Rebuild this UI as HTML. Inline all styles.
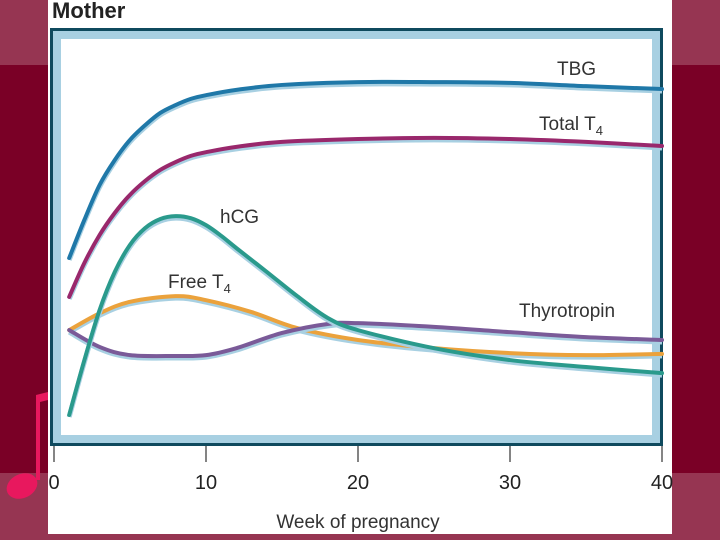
<!DOCTYPE html>
<html><head><meta charset="utf-8"><style>
html,body{margin:0;padding:0;width:720px;height:540px;overflow:hidden;background:#7a0026;font-family:"Liberation Sans",sans-serif}
svg{display:block}
</style></head><body>
<svg width="720" height="540">
<rect x="0" y="0" width="720" height="65" fill="#963552"/>
<rect x="0" y="473" width="720" height="67" fill="#963552"/>
<rect x="48" y="0" width="624" height="534" fill="#fff"/>
<g fill="#e8185e">
<rect x="36" y="395" width="4" height="85"/>
<path d="M36 395 L48 392 L48 400 L40 402 Z"/>
<ellipse cx="22" cy="486" rx="16" ry="12" transform="rotate(-25 22 486)"/>
</g>
<text x="52" y="18" font-size="22" font-weight="bold" fill="#222">Mother</text>
<rect x="51.5" y="29.5" width="610" height="415" fill="none" stroke="#0f4a5e" stroke-width="3"/>
<rect x="57" y="35" width="599" height="404" fill="none" stroke="#a8d0e2" stroke-width="8"/>
<g id="ticks"></g>
<g id="lines"></g>
<text x="557" y="75" font-size="19" fill="#333">TBG</text>
<text x="539" y="130" font-size="19" fill="#333">Total T<tspan font-size="13" dy="5">4</tspan></text>
<text x="220" y="223" font-size="19" fill="#333">hCG</text>
<text x="168" y="288" font-size="19" fill="#333">Free T<tspan font-size="13" dy="5">4</tspan></text>
<text x="519" y="317" font-size="19" fill="#333">Thyrotropin</text>
<text x="358" y="528" font-size="19" fill="#333" text-anchor="middle">Week of pregnancy</text>
</svg>
<script>
const xTicks=[0,10,20,30,40];
const tbgWeeks=[1,2,3,4,5,6,7,8,9,10,12,15,20,25,30,35,40];
const tbgValues=[44.4,53.7,62.2,68.3,73.2,76.8,79.8,81.7,83.2,84.1,85.4,86.6,87.3,87.3,87.1,86.3,85.6];
const t4Weeks=[1,2,3,4,5,6,7,8,9,10,12,15,20,25,30,35,40];
const t4Values=[34.9,43.2,50,55.4,59.8,63.2,65.9,67.8,69.3,70.2,71.5,72.7,73.4,73.7,73.4,72.7,71.7];
const hcgWeeks=[1,2,3,4,5,6,7,8,9,10,11,12,14,16,18,20,25,30,35,40];
const hcgValues=[6.1,19.5,31.7,41,47.6,51.7,53.9,54.6,54.1,52.4,49.8,46.8,41,35.1,29.8,26.8,22.4,19.5,17.8,16.3];
const ft4Weeks=[1,3,5,8,10,13,16,20,25,30,35,40];
const ft4Values=[26.8,30.9,33.7,35.1,34.1,31.2,27.3,24.4,22.4,21.2,20.7,21];
const tshWeeks=[1,3,5,8,10,12,15,18,20,25,30,35,40];
const tshValues=[26.8,22.7,20.7,20.5,20.7,22.4,26.1,28.3,28.5,27.6,26.3,25.1,24.4];
const NS='http://www.w3.org/2000/svg';
const xs=w=>54+w*15.2;
const ys=v=>440-v*4.1;
const tg=document.getElementById('ticks');
xTicks.forEach(t=>{
 const l=document.createElementNS(NS,'line');
 l.setAttribute('x1',xs(t));l.setAttribute('x2',xs(t));l.setAttribute('y1',446);l.setAttribute('y2',462);
 l.setAttribute('stroke','#333');l.setAttribute('stroke-width','1.2');
 
 
 tg.appendChild(l);
 const tx=document.createElementNS(NS,'text');
 tx.setAttribute('x',xs(t));tx.setAttribute('y',489);tx.setAttribute('font-size','20');
 tx.setAttribute('text-anchor','middle');tx.setAttribute('fill','#222');
 tx.textContent=t;
 
 
 tg.appendChild(tx);
});
function path(ws,vs,dy){
 const p=ws.map((w,i)=>[xs(w),ys(vs[i])+dy]);
 let d='M'+p[0][0]+' '+p[0][1];
 for(let i=0;i<p.length-1;i++){
  const p0=p[i-1]||p[i],p1=p[i],p2=p[i+1],p3=p[i+2]||p2;
  const c1=[p1[0]+(p2[0]-p0[0])/6,p1[1]+(p2[1]-p0[1])/6];
  const c2=[p2[0]-(p3[0]-p1[0])/6,p2[1]-(p3[1]-p1[1])/6];
  d+=' C'+c1.join(' ')+' '+c2.join(' ')+' '+p2.join(' ');
 }
 return d;
}
const lg=document.getElementById('lines');
const series=[[tbgWeeks,tbgValues,'#1f78a8','line-tbg'],[t4Weeks,t4Values,'#99286c','line-total-t4'],[ft4Weeks,ft4Values,'#eba23c','line-free-t4'],[tshWeeks,tshValues,'#7a5a98','line-thyrotropin'],[hcgWeeks,hcgValues,'#2a9a8c','line-hcg']];
series.forEach(s=>{
 const u=document.createElementNS(NS,'path');
 u.setAttribute('d',path(s[0],s[1],2));u.setAttribute('fill','none');
 u.setAttribute('stroke','#a8d0e2');u.setAttribute('stroke-width','5');
 
 
 lg.appendChild(u);
 const l=document.createElementNS(NS,'path');
 l.setAttribute('d',path(s[0],s[1],0));l.setAttribute('fill','none');
 l.setAttribute('stroke',s[2]);l.setAttribute('stroke-width','4');l.setAttribute('stroke-linecap','round');
 
 
 lg.appendChild(l);
});
</script>
</body></html>
